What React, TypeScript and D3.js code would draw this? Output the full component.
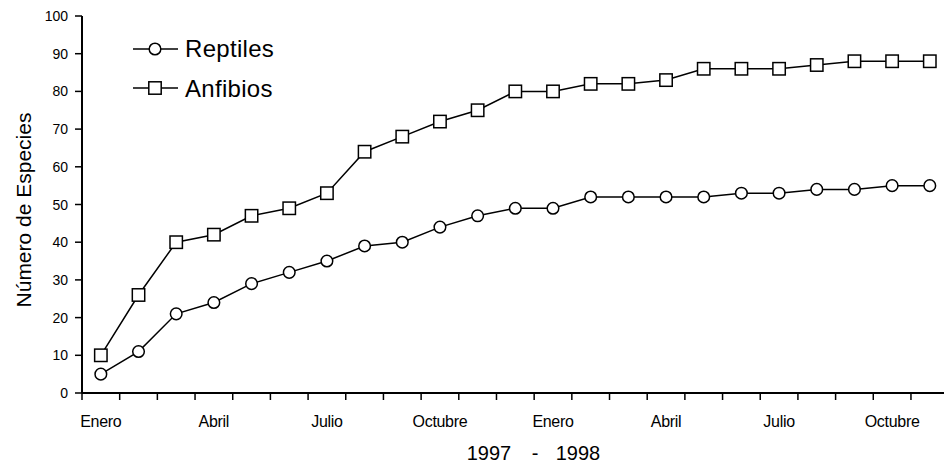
import React from "react";
import * as d3 from "d3";

const months = [
  "Enero", "Febrero", "Marzo", "Abril", "Mayo", "Junio", "Julio", "Agosto",
  "Septiembre", "Octubre", "Noviembre", "Diciembre",
  "Enero", "Febrero", "Marzo", "Abril", "Mayo", "Junio", "Julio", "Agosto",
  "Septiembre", "Octubre", "Noviembre", "Diciembre",
];
const labeledMonths = ["Enero", "Abril", "Julio", "Octubre"];
const reptiles = [5, 11, 21, 24, 29, 32, 35, 39, 40, 44, 47, 49, 49, 52, 52, 52, 52, 53, 53, 54, 54, 55, 55];
const anfibios = [10, 26, 40, 42, 47, 49, 53, 64, 68, 72, 75, 80, 80, 82, 82, 83, 86, 86, 86, 87, 88, 88, 88];
const yTicks = [0, 10, 20, 30, 40, 50, 60, 70, 80, 90, 100];
const seriesNames = ["Reptiles", "Anfibios"];
const yTitle = "Número de Especies";
const xTitleParts = ["1997", "-", "1998"];

const W = 944;
const H = 465;
const X0 = 82;
const STEP = 37.68;
const FONT = "'Liberation Sans', Arial, sans-serif";

export default function App() {
  const x = d3
    .scaleBand<number>()
    .domain(months.map((_, i) => i))
    .range([X0, X0 + STEP * months.length])
    .padding(0);
  const y = d3.scaleLinear().domain([0, 100]).range([393, 16]);
  const cx = (i: number) => (x(i) as number) + x.bandwidth() / 2;

  const line = d3
    .line<number>()
    .x((_, i) => cx(i))
    .y((d) => y(d));

  const circle = (px: number, py: number, key: string) => (
    <circle key={key} cx={px} cy={py} r={5.8} fill="#fff" stroke="#000" strokeWidth={1.5} />
  );
  const square = (px: number, py: number, key: string) => (
    <rect key={key} x={px - 6.2} y={py - 6.2} width={12.4} height={12.4} fill="#fff" stroke="#000" strokeWidth={1.5} />
  );

  return (
    <svg
      width={W}
      height={H}
      style={{ position: "absolute", left: 0, top: 0, background: "#fff" }}
      fontFamily={FONT}
    >
      <rect x={0} y={0} width={W} height={H} fill="#fff" />
      {/* Y axis */}
      <line x1={X0} x2={X0} y1={y(100)} y2={y(0)} stroke="#000" strokeWidth={2} />
      {yTicks.map((t) => (
        <g key={"y" + t}>
          <line x1={X0 - 7} x2={X0} y1={y(t)} y2={y(t)} stroke="#000" strokeWidth={1.5} />
          <text x={68} y={y(t)} dy="0.36em" textAnchor="end" fontSize={14} fill="#000">
            {t}
          </text>
        </g>
      ))}
      {/* X axis */}
      <line x1={X0} x2={W + 40} y1={y(0)} y2={y(0)} stroke="#000" strokeWidth={2} />
      {d3.range(months.length + 1).map((i) => {
        const px = X0 + i * x.step();
        return <line key={"xt" + i} x1={px} x2={px} y1={y(0)} y2={y(0) + 7} stroke="#000" strokeWidth={1.5} />;
      })}
      {months.map((m, i) =>
        labeledMonths.includes(m) && i % 3 === 0 ? (
          <text key={"xl" + i} x={cx(i)} y={427} textAnchor="middle" fontSize={16} fill="#000" letterSpacing={-0.3}>
            {m}
          </text>
        ) : null
      )}
      {/* Axis titles */}
      <text
        transform={`translate(31, 210) rotate(-90)`}
        textAnchor="middle"
        fontSize={21}
        fill="#000"
      >
        {yTitle}
      </text>
      <text x={489} y={460} textAnchor="middle" fontSize={20} fill="#000">{xTitleParts[0]}</text>
      <text x={535} y={460} textAnchor="middle" fontSize={20} fill="#000">{xTitleParts[1]}</text>
      <text x={578} y={460} textAnchor="middle" fontSize={20} fill="#000">{xTitleParts[2]}</text>

      {/* Series lines */}
      <path d={line(anfibios) || ""} fill="none" stroke="#000" strokeWidth={1.5} />
      <path d={line(reptiles) || ""} fill="none" stroke="#000" strokeWidth={1.5} />
      {anfibios.map((v, i) => square(cx(i), y(v), "a" + i))}
      {reptiles.map((v, i) => circle(cx(i), y(v), "r" + i))}

      {/* Legend */}
      <line x1={133} x2={178} y1={49} y2={49} stroke="#000" strokeWidth={1.5} />
      {circle(155, 49, "lr")}
      <text x={185} y={57} fontSize={24} fill="#000" letterSpacing={0.3}>{seriesNames[0]}</text>
      <line x1={133} x2={178} y1={88} y2={88} stroke="#000" strokeWidth={1.5} />
      {square(155, 88, "la")}
      <text x={185} y={97} fontSize={24} fill="#000" letterSpacing={0.3}>{seriesNames[1]}</text>
    </svg>
  );
}
